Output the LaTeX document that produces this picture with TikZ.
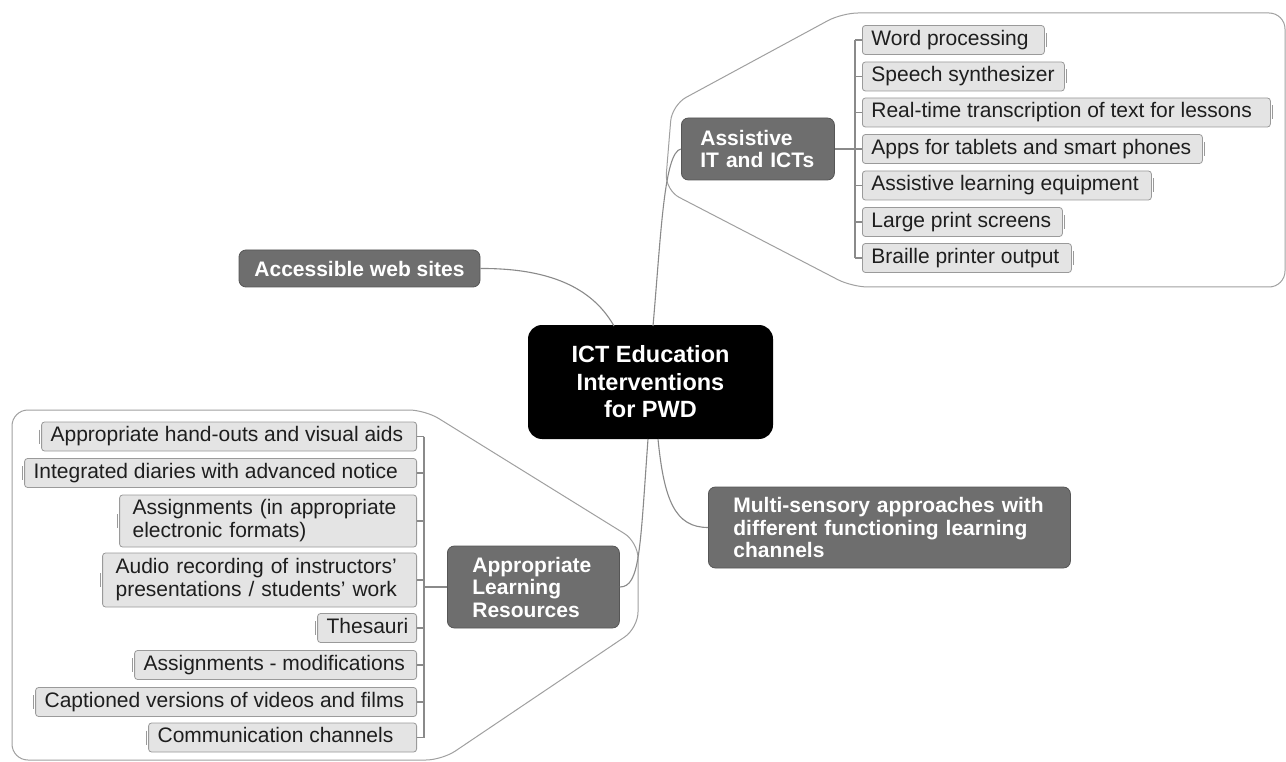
\documentclass[tikz,border=0pt]{standalone}
\usepackage{fontspec}
\setmainfont{Liberation Sans}
\definecolor{topicfill}{HTML}{6E6E6E}
\definecolor{topicdraw}{HTML}{565656}
\definecolor{leaffill}{HTML}{E4E4E4}
\definecolor{leafdraw}{HTML}{9A9A9A}
\definecolor{linkc}{HTML}{8A8A8A}
\definecolor{outlc}{HTML}{A0A0A0}
\definecolor{leaftext}{HTML}{1E1E1E}
\newcommand{\lft}[2]{\makebox[#1pt][l]{\hspace{9pt}#2}}
\begin{document}
\begin{tikzpicture}[x=1pt,y=-1pt,
 central/.style={fill=black, rounded corners=14pt, text=white,
   font=\bfseries\fontsize{23.5}{27.5}\selectfont, align=center,
   minimum width=245pt, minimum height=114pt, inner sep=0pt},
 topic/.style={fill=topicfill, draw=topicdraw, line width=0.8pt, rounded corners=7pt,
   text=white, font=\bfseries\fontsize{21}{22.5}\selectfont, inner ysep=0pt},
 leafbase/.style={fill=leaffill, draw=leafdraw, line width=0.8pt, rounded corners=3pt,
   text=leaftext, inner ysep=0pt},
 leaf/.style={leafbase, font=\fontsize{21}{24}\selectfont, inner xsep=0pt,
   minimum height=29pt, text height=15pt, text depth=4.5pt},
 leaftwo/.style={leafbase, font=\fontsize{21}{23}\selectfont, inner xsep=13pt, align=left},
 link/.style={draw=linkc, line width=1.1pt},
 tick/.style={draw=leafdraw, line width=0.8pt},
 outl/.style={draw=outlc, line width=1pt, rounded corners=16pt}
]
\useasboundingbox (0,0) rectangle (1286,762);
\fill[white] (0,0) rectangle (1286,762);

% group outlines
\draw[outl] (665,190) -- (672,105) -- (842,13) -- (1285,13) -- (1285,287) -- (852,287) -- cycle;
\draw[outl] (12,410) -- (425,410) -- (638,542) -- (638,628) -- (442,760) -- (12,760) -- cycle;

% central node
\node[central] (c) at (650.5,382) {ICT Education\\Interventions\\for PWD};

% main topics
\node[topic, anchor=west, minimum width=153pt, minimum height=62pt, inner xsep=19pt,
  text width=115pt, align=left] (a) at (681,149) {Assistive\\IT and ICTs};
\node[topic, minimum width=241pt, minimum height=37pt, inner xsep=0pt] (w) at (359.5,268.5) {Accessible web sites};
\node[topic, anchor=west, minimum width=362pt, minimum height=81pt, inner xsep=25pt,
  text width=312pt, align=left] (m) at (708,527.5) {Multi-sensory approaches with\\different functioning learning\\channels};
\node[topic, anchor=west, minimum width=172pt, minimum height=82pt, inner xsep=25pt,
  text width=122pt, align=left] (r) at (447,587) {Appropriate\\Learning\\Resources};

% right leaves
\node[leaf, anchor=west] (l1) at (862,40) {\lft{182}{Word processing}};
\node[leaf, anchor=west] (l2) at (862,76.5) {\lft{202}{Speech synthesizer}};
\node[leaf, anchor=west] (l3) at (862,112.5) {\lft{408}{Real-time transcription of text for lessons}};
\node[leaf, anchor=west] (l4) at (862,149) {\lft{340}{Apps for tablets and smart phones}};
\node[leaf, anchor=west] (l5) at (862,185.5) {\lft{289}{Assistive learning equipment}};
\node[leaf, anchor=west] (l6) at (862,222) {\lft{200}{Large print screens}};
\node[leaf, anchor=west] (l7) at (862,258) {\lft{209}{Braille printer output}};

% left leaves
\node[leaf, anchor=east] (k1) at (417,436.5) {\lft{375}{Appropriate hand-outs and visual aids}};
\node[leaf, anchor=east] (k2) at (417,473) {\lft{392}{Integrated diaries with advanced notice}};
\node[leaftwo, anchor=east, text width=271pt, minimum height=52pt] (k3) at (417,521) {Assignments (in appropriate\\electronic formats)};
\node[leaftwo, anchor=east, text width=288pt, minimum height=54pt] (k4) at (417,580) {Audio recording of instructors'\\presentations / students' work};
\node[leaf, anchor=east] (k5) at (417,628) {\lft{99}{Thesauri}};
\node[leaf, anchor=east] (k6) at (417,665) {\lft{282}{Assignments - modifications}};
\node[leaf, anchor=east] (k7) at (417,702) {\lft{381}{Captioned versions of videos and films}};
\node[leaf, anchor=east] (k8) at (417,737.5) {\lft{268}{Communication channels}};

% junction coordinates
\coordinate (rj) at (855,149);
\coordinate (lj) at (424,587);

% connectors from central node
\draw[link] (653,326) .. controls (661,235) and (664,152) .. (a.west);
\draw[link] (w.east) .. controls (565,268) and (598,298) .. (614,326);
\draw[link] (658,439) .. controls (664,500) and (675,527.5) .. (m.west);
\draw[link] (648,439) .. controls (640,550) and (640,587) .. (r.east);

% right branch
\draw[link] (a.east) -- (rj);
\draw[link] (rj |- l1.west) -- (rj |- l7.west);
\foreach \n in {l1,l2,l3,l4,l5,l6,l7}{
  \draw[link] (rj |- \n.west) -- (\n.west);
  \draw[tick] ([xshift=2pt]\n.east) ++(0,-7) -- ++(0,14);
}

% left branch
\draw[link] (r.west) -- (lj);
\draw[link] (lj |- k1.east) -- (lj |- k8.east);
\foreach \n in {k1,k2,k3,k4,k5,k6,k7,k8}{
  \draw[link] (lj |- \n.east) -- (\n.east);
  \draw[tick] ([xshift=-2pt]\n.west) ++(0,-7) -- ++(0,14);
}
\end{tikzpicture}
\end{document}
